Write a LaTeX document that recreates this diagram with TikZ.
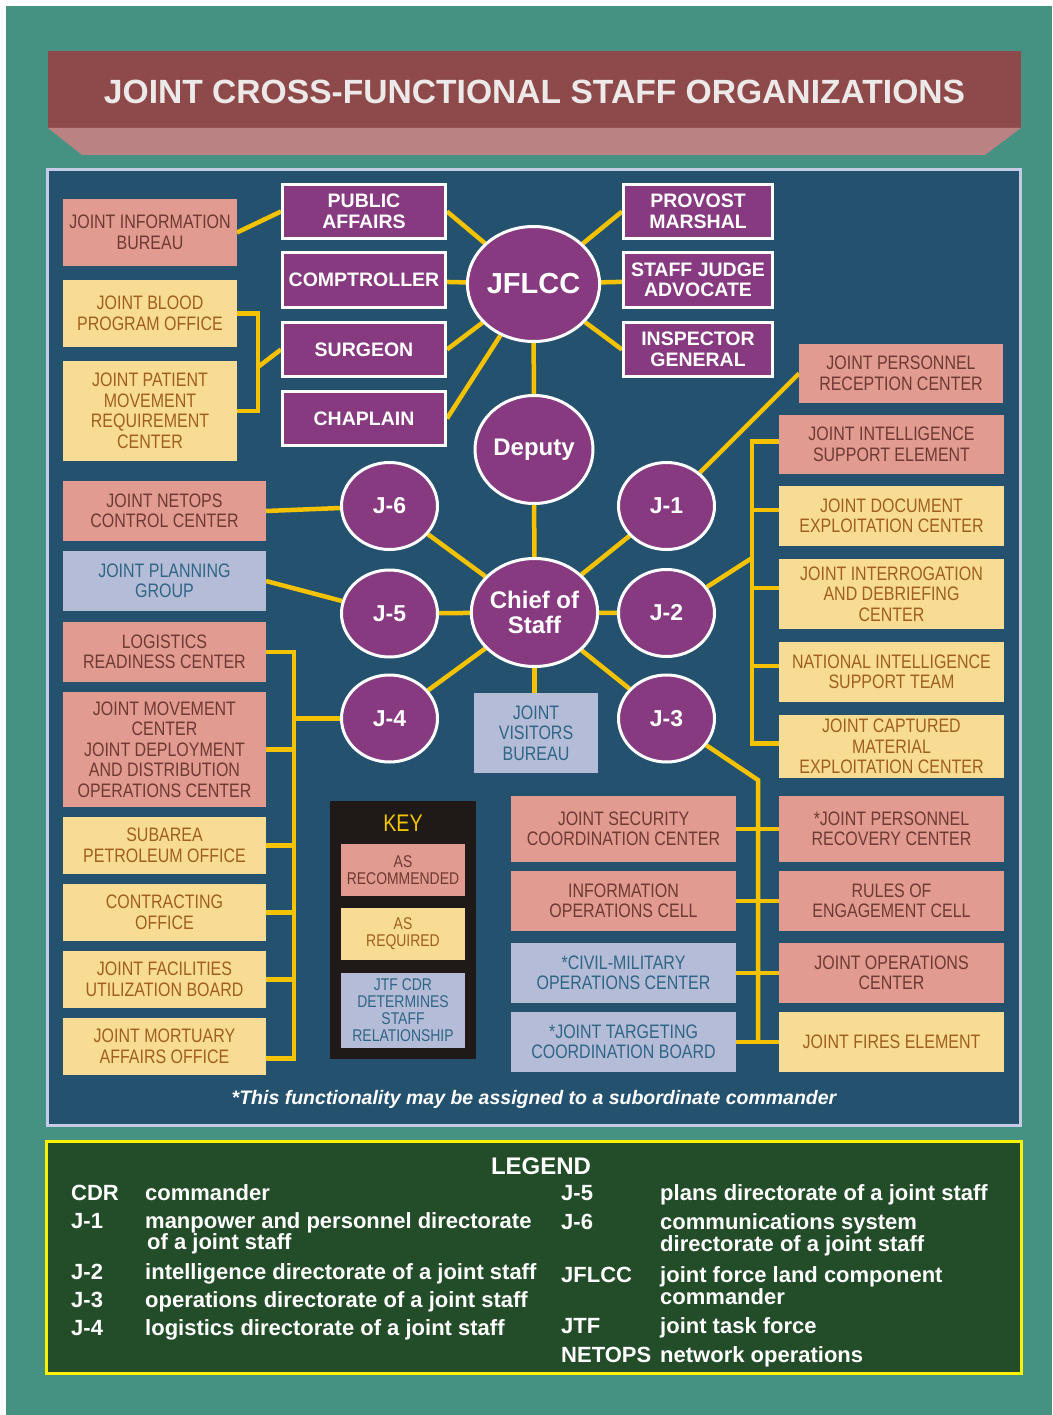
\documentclass[tikz,border=0pt]{standalone}
\usepackage{fontspec}
\setmainfont{Liberation Sans}
\newfontfamily\condfont[FakeStretch=0.82]{Liberation Sans}
\usetikzlibrary{shapes.geometric}
\usetikzlibrary{backgrounds}
\usetikzlibrary{calc}

\definecolor{teal0}{RGB}{69,145,130}
\definecolor{titlered}{RGB}{142,74,74}
\definecolor{titlepink}{RGB}{186,130,130}
\definecolor{titletext}{RGB}{238,233,233}
\definecolor{panelblue}{RGB}{36,82,110}
\definecolor{panelrim}{RGB}{197,202,230}
\definecolor{staffpurple}{RGB}{135,58,128}
\definecolor{linkyellow}{RGB}{245,194,0}
\definecolor{recfill}{RGB}{226,155,144}
\definecolor{rectext}{RGB}{110,58,51}
\definecolor{reqfill}{RGB}{249,220,148}
\definecolor{reqtext}{RGB}{160,95,30}
\definecolor{cdrfill}{RGB}{181,188,216}
\definecolor{cdrtext}{RGB}{47,101,133}
\definecolor{keyblack}{RGB}{31,26,24}
\definecolor{keyyellow}{RGB}{245,196,0}
\definecolor{legendgreen}{RGB}{35,76,41}
\definecolor{legendrim}{RGB}{255,242,0}

\tikzset{
  box/.style={rectangle, inner sep=0pt, outer sep=0pt, align=center,
    font=\condfont\fontsize{19.5}{20.5}\selectfont},
  rec/.style={box, fill=recfill, text=rectext},
  req/.style={box, fill=reqfill, text=reqtext},
  cdr/.style={box, fill=cdrfill, text=cdrtext},
  narrow/.style={minimum width=174pt},
  left/.style={minimum width=203pt},
  right/.style={minimum width=225pt},
  office/.style={rectangle, fill=staffpurple, draw=white, line width=3pt,
    text=white, align=center, inner sep=0pt, minimum height=54pt,
    font=\bfseries\fontsize{19.5}{20.5}\selectfont},
  staff/.style={ellipse, fill=staffpurple, draw=white, line width=3pt,
    text=white, inner sep=0pt, align=center,
    font=\bfseries\fontsize{24}{25}\selectfont},
  jdir/.style={staff, minimum width=96pt, minimum height=87pt,
    font=\bfseries\fontsize{23}{25}\selectfont},
  link/.style={draw=linkyellow, line width=4.5pt},
  keybox/.style={box, minimum width=124pt, font=\condfont\fontsize{17}{17}\selectfont},
  legtext/.style={anchor=base west, inner sep=0pt, text=white,
    font=\bfseries\fontsize{22}{23}\selectfont}
}

\begin{document}
\begin{tikzpicture}[x=1pt, y=-1pt]
\useasboundingbox (0,0) rectangle (1052,1415);
\begin{pgfonlayer}{background}
\fill[white] (0,0) rectangle (1052,1415);
\fill[teal0] (6,6) rectangle (1052,1415);
\fill[titlered] (48,51) rectangle (1021,128);
\fill[titlepink] (48,128) -- (1021,128) -- (985,155) -- (82,155) -- cycle;
\draw[panelrim, line width=3pt, fill=panelblue] (47.5,169.5) rectangle (1020.5,1125.5);
\draw[legendrim, line width=3.5pt, fill=legendgreen] (46.5,1141.5) rectangle (1021.5,1373.5);
\end{pgfonlayer}

\node[text=titletext, font=\bfseries\fontsize{33.6}{34}\selectfont] (title) at (534.5,92)
  {JOINT CROSS-FUNCTIONAL STAFF ORGANIZATIONS};

% command group
\node[staff, minimum width=124pt, minimum height=115pt, font=\bfseries\fontsize{29}{29}\selectfont] (jflcc) at (533.5,284) {JFLCC};
\node[staff, minimum width=118pt, minimum height=108pt] (deputy) at (534,449.5) {Deputy};
\node[staff, minimum width=118pt, minimum height=108pt] (cos) at (534.5,612.5) {Chief of\\Staff};

\node[office, minimum width=163pt] (pa) at (364,211.5) {PUBLIC\\AFFAIRS};
\node[office, minimum width=163pt] (comp) at (364,280) {COMPTROLLER};
\node[office, minimum width=163pt] (surg) at (364,349.5) {SURGEON};
\node[office, minimum width=163pt] (chap) at (364,418.5) {CHAPLAIN};
\node[office, minimum width=149pt] (pm) at (698,211.5) {PROVOST\\MARSHAL};
\node[office, minimum width=149pt] (sja) at (698,280) {STAFF JUDGE\\ADVOCATE};
\node[office, minimum width=149pt] (ig) at (698,349.5) {INSPECTOR\\GENERAL};

% directorates
\node[jdir] (j6) at (389.5,506) {J-6};
\node[jdir] (j5) at (389.5,613.5) {J-5};
\node[jdir] (j4) at (389.5,718.5) {J-4};
\node[jdir] (j1) at (666.5,506) {J-1};
\node[jdir] (j2) at (666.5,613) {J-2};
\node[jdir] (j3) at (666.5,718.5) {J-3};

% left column
\node[rec, narrow, minimum height=67pt] (jib) at (150,232.5) {JOINT INFORMATION\\BUREAU};
\node[req, narrow, minimum height=67pt] (jbpo) at (150,313.5) {JOINT BLOOD\\PROGRAM OFFICE};
\node[req, narrow, minimum height=100pt] (jpmrc) at (150,411) {JOINT PATIENT\\MOVEMENT\\REQUIREMENT\\CENTER};
\node[rec, left, minimum height=60pt] (netops) at (164.5,511) {JOINT NETOPS\\CONTROL CENTER};
\node[cdr, left, minimum height=60pt] (jpg) at (164.5,581) {JOINT PLANNING\\GROUP};
\node[rec, left, minimum height=60pt] (lrc) at (164.5,652) {LOGISTICS\\READINESS CENTER};
\node[rec, left, minimum height=115pt] (jmc) at (164.5,749.5) {JOINT MOVEMENT\\CENTER\\JOINT DEPLOYMENT\\AND DISTRIBUTION\\OPERATIONS CENTER};
\node[req, left, minimum height=57pt] (spo) at (164.5,845.5) {SUBAREA\\PETROLEUM OFFICE};
\node[req, left, minimum height=57pt] (co) at (164.5,912.5) {CONTRACTING\\OFFICE};
\node[req, left, minimum height=57pt] (jfub) at (164.5,979.5) {JOINT FACILITIES\\UTILIZATION BOARD};
\node[req, left, minimum height=57pt] (jmao) at (164.5,1046.5) {JOINT MORTUARY\\AFFAIRS OFFICE};

\node[cdr, minimum width=124pt, minimum height=80pt] (jvb) at (536,733) {JOINT\\VISITORS\\BUREAU};

% right column
\node[rec, minimum width=204pt, minimum height=59pt] (jprc) at (901,373.5) {JOINT PERSONNEL\\RECEPTION CENTER};
\node[rec, right, minimum height=59pt] (jise) at (891.5,444.5) {JOINT INTELLIGENCE\\SUPPORT ELEMENT};
\node[req, right, minimum height=60pt] (jdec) at (891.5,516) {JOINT DOCUMENT\\EXPLOITATION CENTER};
\node[req, right, minimum height=70pt] (jidc) at (891.5,594) {JOINT INTERROGATION\\AND DEBRIEFING\\CENTER};
\node[req, right, minimum height=60pt] (nist) at (891.5,672) {NATIONAL INTELLIGENCE\\SUPPORT TEAM};
\node[req, right, minimum height=63pt] (jcmec) at (891.5,746.5) {JOINT CAPTURED\\MATERIAL\\EXPLOITATION CENTER};

% operations group
\node[rec, right, minimum height=66pt] (jscc) at (623.5,829) {JOINT SECURITY\\COORDINATION CENTER};
\node[rec, right, minimum height=60pt] (ioc) at (623.5,901) {INFORMATION\\OPERATIONS CELL};
\node[cdr, right, minimum height=60pt] (cmoc) at (623.5,973) {*CIVIL-MILITARY\\OPERATIONS CENTER};
\node[cdr, right, minimum height=60pt] (jtcb) at (623.5,1042) {*JOINT TARGETING\\COORDINATION BOARD};
\node[rec, right, minimum height=66pt] (jprc2) at (891.5,829) {*JOINT PERSONNEL\\RECOVERY CENTER};
\node[rec, right, minimum height=60pt] (roe) at (891.5,901) {RULES OF\\ENGAGEMENT CELL};
\node[rec, right, minimum height=60pt] (joc) at (891.5,973) {JOINT OPERATIONS\\CENTER};
\node[req, right, minimum height=60pt] (jfe) at (891.5,1042) {JOINT FIRES ELEMENT};

% key
\node[fill=keyblack, minimum width=146pt, minimum height=258pt, inner sep=0pt] (key) at (403,930) {};
\node[text=keyyellow, font=\condfont\fontsize{24}{24}\selectfont] (keytitle) at (403,823) {KEY};
\node[keybox, fill=recfill, text=rectext, minimum height=52pt] (keyrec) at (403,870) {AS\\RECOMMENDED};
\node[keybox, fill=reqfill, text=reqtext, minimum height=52pt] (keyreq) at (403,934) {AS\\REQUIRED};
\node[keybox, fill=cdrfill, text=cdrtext, minimum height=75pt] (keycdr) at (403,1010.5) {JTF CDR\\DETERMINES\\STAFF\\RELATIONSHIP};

\node[text=white, font=\bfseries\itshape\fontsize{19.5}{20}\selectfont] (note) at (534,1099)
  {*This functionality may be assigned to a subordinate commander};

% connectors
\coordinate (medjoin) at (258,367);
\coordinate (logjoin) at (294,718.5);
\coordinate (intjoin) at (752,558);
\coordinate (opsjoin) at (758,780);
\begin{pgfonlayer}{background}
\draw[link] (jib.east) -- (pa.west);
\foreach \o in {pa, surg, chap}{
  \draw[link] (\o.east) -- (jflcc);}
\foreach \o in {pm, ig}{
  \draw[link] (\o.west) -- (jflcc);}
\draw[link] (comp) -- (jflcc);
\draw[link] (sja) -- (jflcc);
\draw[link] (jflcc) -- (deputy);
\draw[link] (deputy) -- (cos);
\draw[link] (cos.south) -- (cos.south |- jvb.north);
\foreach \j in {j1, j2, j3, j4, j5, j6}{
  \draw[link] (cos) -- (\j);}
\draw[link] (netops.east) -- (j6);
\draw[link] (jpg.east) -- (j5);
\draw[link] (j1) -- (jprc.west);
% medical
\draw[link] (jbpo.east) -| (medjoin) |- (jpmrc.east);
\draw[link] (medjoin) -- (surg.west);
% logistics
\draw[link] (lrc.east) -| (logjoin) |- ([yshift=-12pt]jmao.east);
\foreach \b in {jmc, spo, co, jfub}{
  \draw[link] (\b.east) -- (\b.east -| logjoin);}
\draw[link] (logjoin) -- (j4);
% intelligence
\draw[link] ([yshift=3pt]jise.west) -| (intjoin) |- ([yshift=3pt]jcmec.west);
\foreach \b in {jdec, jidc, nist}{
  \draw[link] ([yshift=6pt]\b.west) -- ([yshift=6pt]\b.west -| intjoin);}
\draw[link] (j2) -- (intjoin);
% operations
\draw[link] (j3) -- (opsjoin) -- (opsjoin |- jtcb.east);
\foreach \a/\b in {jscc/jprc2, ioc/roe, cmoc/joc, jtcb/jfe}{
  \draw[link] (\a.east) -- (\b.west);}
\end{pgfonlayer}

% legend
\node[legtext, anchor=base, font=\bfseries\fontsize{24}{24}\selectfont] (legtitle) at (541,1174) {LEGEND};
\node[legtext] (abbr-cdr) at (71,1200) {CDR};
\node[legtext] (abbr-ja) at (71,1228) {J-1};
\node[legtext] (abbr-jb) at (71,1279) {J-2};
\node[legtext] (abbr-jc) at (71,1307) {J-3};
\node[legtext] (abbr-jd) at (71,1335) {J-4};
\node[legtext] (desc-cdr) at (145,1200) {commander};
\node[legtext] (desc-ja) at (145,1228) {manpower and personnel directorate};
\node[legtext] (desc-ja2) at (147,1249) {of a joint staff};
\node[legtext] (desc-jb) at (145,1279) {intelligence directorate of a joint staff};
\node[legtext] (desc-jc) at (145,1307) {operations directorate of a joint staff};
\node[legtext] (desc-jd) at (145,1335) {logistics directorate of a joint staff};
\node[legtext] (abbr-je) at (561,1200) {J-5};
\node[legtext] (abbr-jf) at (561,1229) {J-6};
\node[legtext] (abbr-jflcc) at (561,1282) {JFLCC};
\node[legtext] (abbr-jtf) at (561,1333) {JTF};
\node[legtext] (abbr-netops) at (561,1362) {NETOPS};
\node[legtext] (desc-je) at (660,1200) {plans directorate of a joint staff};
\node[legtext] (desc-jf) at (660,1229) {communications system};
\node[legtext] (desc-jf2) at (660,1251) {directorate of a joint staff};
\node[legtext] (desc-jflcc) at (660,1282) {joint force land component};
\node[legtext] (desc-jflcc2) at (660,1304) {commander};
\node[legtext] (desc-jtf) at (660,1333) {joint task force};
\node[legtext] (desc-netops) at (660,1362) {network operations};
\end{tikzpicture}
\end{document}
